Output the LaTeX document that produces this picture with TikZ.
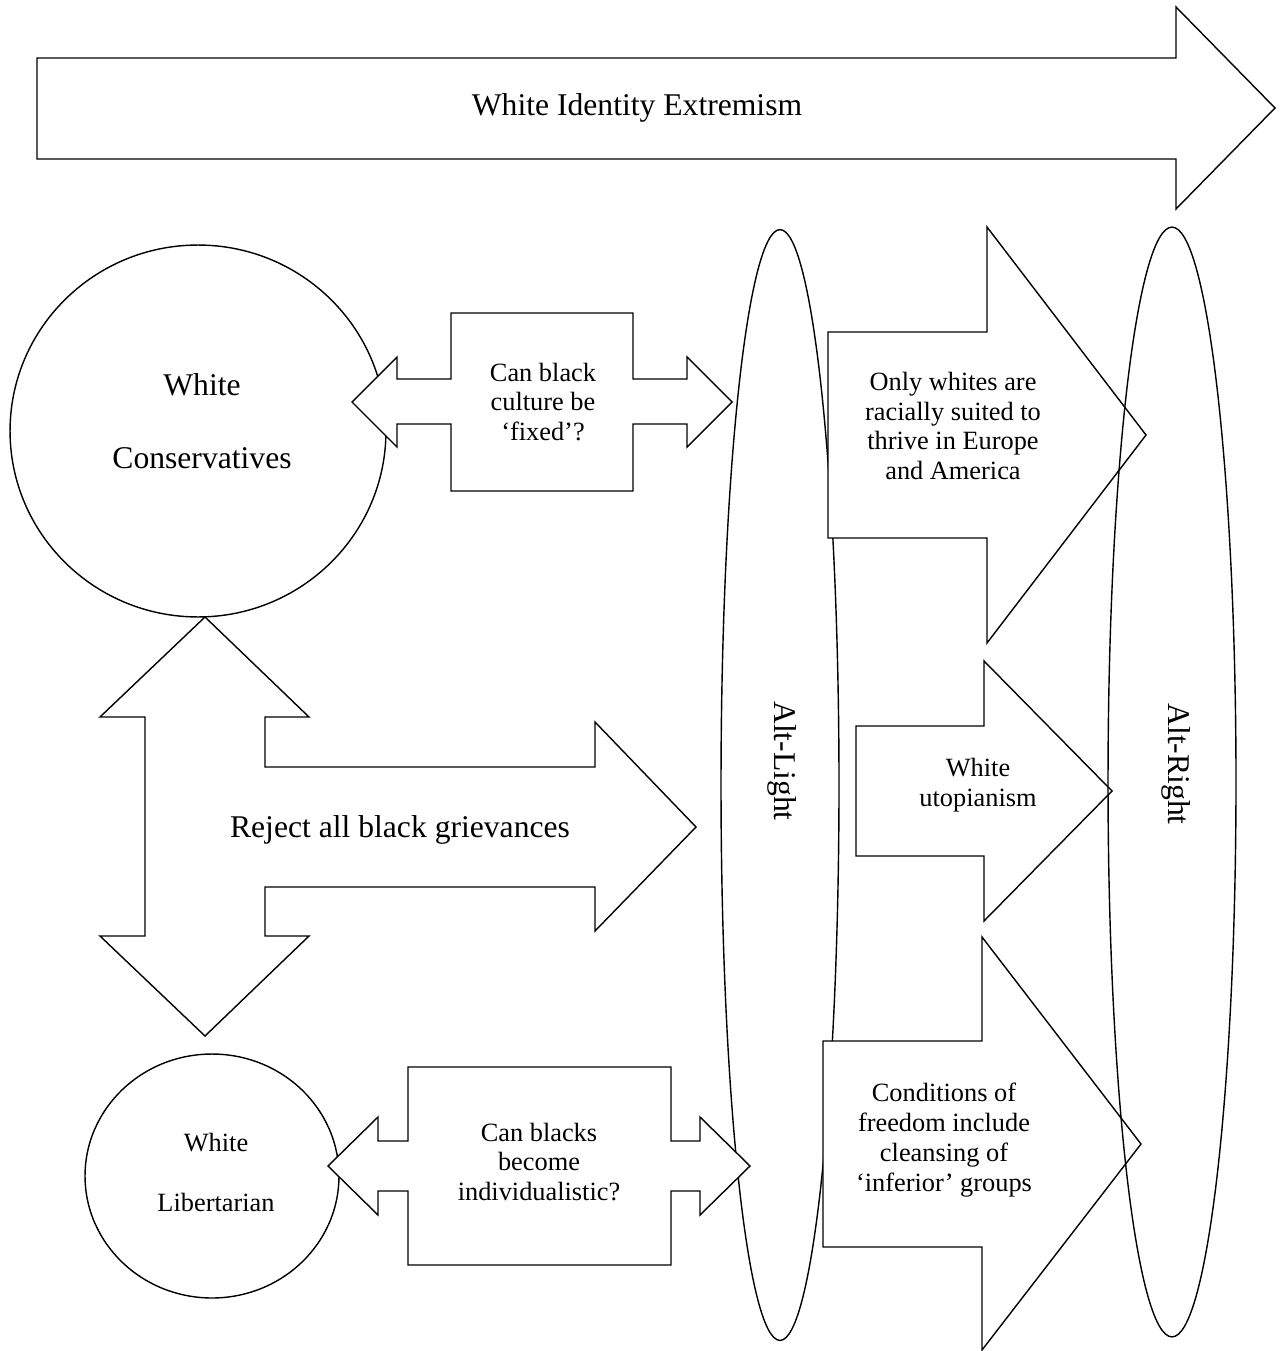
\documentclass[tikz,border=0pt]{standalone}
\usepackage{fontspec}
\setmainfont{Liberation Serif}
\usepackage{tikz}
\usetikzlibrary{shapes.geometric}

\tikzset{
  blob/.style={ellipse, draw, line width=0.8pt, inner sep=0pt},
  blockarrow/.style={draw, fill=white, line width=0.8pt, line join=miter},
  bigtext/.style={font=\fontsize{18}{21}\selectfont, align=center, inner sep=0pt},
  smalltext/.style={font=\fontsize{15}{17}\selectfont, align=center, inner sep=0pt},
}

\begin{document}
\begin{tikzpicture}[x=0.02cm, y=-0.02cm]
      \fill[white] (0,0) rectangle (1279,1351);

      % top arrow
      \draw[blockarrow] (37,58) -- (1176,58) -- (1176,7) -- (1275,108)
        -- (1176,209) -- (1176,159) -- (37,159) -- cycle;
      \node[bigtext] (extremism) at (637,108) {White Identity Extremism};

      % circles and the alt-light ellipse
      \node[blob, minimum width=7.52cm, minimum height=7.44cm] (conservatives) at (198,431) {};
      \node[blob, minimum width=5.08cm, minimum height=4.88cm] (libertarian)   at (212,1176) {};
      \node[blob, minimum width=2.36cm, minimum height=22.22cm] (alt-light)    at (780,785) {};
      \node[bigtext, font=\fontsize{18}{41.5}\selectfont] (conservatives-text) at (202,421.5) {White\\Conservatives};
      \node[smalltext, font=\fontsize{15}{34}\selectfont] (libertarian-text)   at (216,1172.5) {White\\Libertarian};
      \node[bigtext, rotate=-90] (alt-light-text) at (782,761) {Alt-Light};

      % double arrows
      \draw[blockarrow] (352,402) -- (397,357) -- (397,379) -- (451,379) -- (451,313)
        -- (633,313) -- (633,379) -- (687,379) -- (687,357) -- (732,402) -- (687,447)
        -- (687,424) -- (633,424) -- (633,491) -- (451,491) -- (451,424) -- (397,424)
        -- (397,447) -- cycle;
      \node[smalltext] (culture) at (543,402) {Can black\\culture be\\‘fixed’?};

      \draw[blockarrow] (328,1166) -- (378,1117) -- (378,1141) -- (408,1141) -- (408,1067)
        -- (671,1067) -- (671,1141) -- (700,1141) -- (700,1117) -- (750,1166) -- (700,1215)
        -- (700,1191) -- (671,1191) -- (671,1265) -- (408,1265) -- (408,1191) -- (378,1191)
        -- (378,1215) -- cycle;
      \node[smalltext] (individualistic) at (539,1162) {Can blacks\\become\\individualistic?};

      % three-way arrow
      \draw[blockarrow] (205,617) -- (309,717) -- (265,717) -- (265,767) -- (595,767)
        -- (595,722) -- (696,827) -- (595,931) -- (595,887) -- (265,887) -- (265,936)
        -- (309,936) -- (205,1036) -- (100,936) -- (145,936) -- (145,717) -- (100,717) -- cycle;
      \node[bigtext] (reject) at (400,830) {Reject all black grievances};

      % arrows to the alt-right
      \draw[blockarrow] (828,332) -- (987,332) -- (987,227) -- (1146,435) -- (987,643)
        -- (987,538) -- (828,538) -- cycle;
      \node[smalltext] (thrive) at (953,426) {Only whites are\\racially suited to\\thrive in Europe\\and America};

      \draw[blockarrow] (856,726) -- (984,726) -- (984,661) -- (1112,791) -- (984,921)
        -- (984,856) -- (856,856) -- cycle;
      \node[smalltext] (utopianism) at (978,785) {White\\utopianism};

      \draw[blockarrow] (823,1041) -- (982,1041) -- (982,937) -- (1141,1144) -- (982,1350)
        -- (982,1247) -- (823,1247) -- cycle;
      \node[smalltext] (cleansing) at (944,1140) {Conditions of\\freedom include\\cleansing of\\‘inferior’ groups};

      % alt-right on top
      \node[blob, minimum width=2.56cm, minimum height=22.2cm] (alt-right) at (1172,782) {};
      \node[bigtext, rotate=-90] (alt-right-text) at (1176,764) {Alt-Right};
\end{tikzpicture}
\end{document}
